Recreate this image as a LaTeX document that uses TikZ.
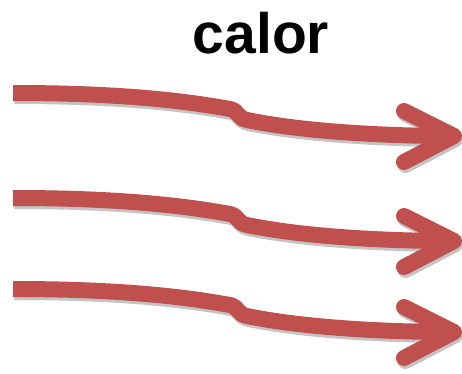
\documentclass[tikz,border=0pt]{standalone}
\usepackage{fontspec}
\setmainfont{Liberation Sans}
\definecolor{arrowred}{HTML}{C0504D}
\definecolor{shadowgray}{HTML}{C4C4C4}
\tikzset{
  arrowline/.style={line width=16pt, line cap=butt, line join=round, draw=arrowred},
  headline/.style={line width=16pt, line cap=round, line join=round, draw=arrowred},
  shadowline/.style={line width=16pt, line cap=butt, line join=round, draw=shadowgray},
  shadowhead/.style={line width=16pt, line cap=round, line join=round, draw=shadowgray},
}
\begin{document}
\begin{tikzpicture}[x=1pt,y=-1pt]
\useasboundingbox[fill=white] (0,0) rectangle (462,373);
\node[font=\bfseries\fontsize{57}{57}\selectfont, anchor=base, inner sep=0pt] (title) at (261,53) {calor};
\foreach \dy/\n in {0/a,105/b,196/c} {
  \begin{scope}[yshift=-\dy pt]
    \coordinate (s\n) at (13,93);
    \coordinate (k\n) at (230,109);
    \coordinate (m\n) at (247,120);
    \coordinate (e\n) at (452,136);
    \coordinate (t\n) at (454,136);
    \coordinate (u\n) at (404,111);
    \coordinate (l\n) at (404,162);
    \begin{scope}[shift={(1.5,3)}]
      \draw[shadowline] (13,93) .. controls (100,93) and (170,98) .. (230,109)
        .. controls (239,111) and (237,118) .. (247,120)
        .. controls (300,131) and (380,136) .. (452,136);
      \draw[shadowhead] (404,111) -- (454,136) -- (404,162);
    \end{scope}
    \draw[arrowline] (s\n) .. controls (100,93) and (170,98) .. (k\n)
      .. controls (239,111) and (237,118) .. (m\n)
      .. controls (300,131) and (380,136) .. (e\n);
    \draw[headline] (u\n) -- (t\n) -- (l\n);
  \end{scope}
}
\end{tikzpicture}
\end{document}
